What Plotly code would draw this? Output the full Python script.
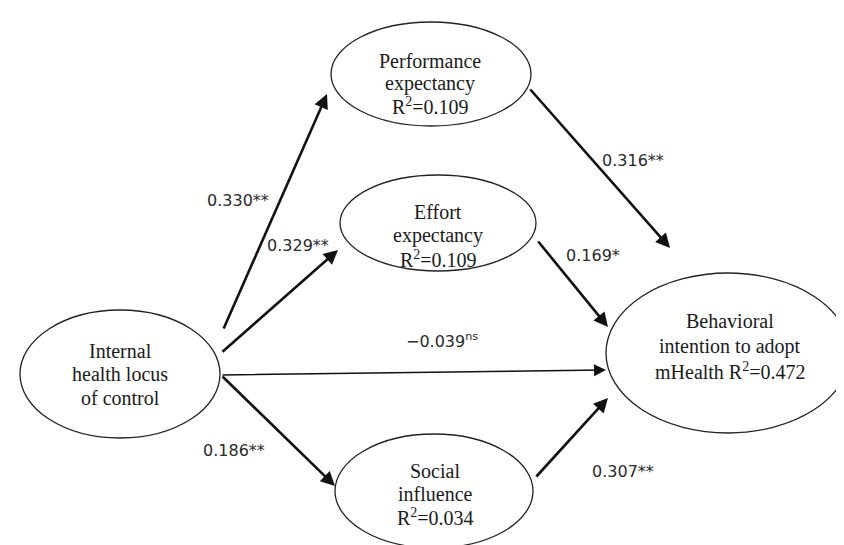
import plotly.graph_objects as go

# ---------------- data ----------------
node_names = ["Internal<br>health locus<br>of control",
              "Performance<br>expectancy<br>R<sup>2</sup>=0.109",
              "Effort<br>expectancy<br>R<sup>2</sup>=0.109",
              "Social<br>influence<br>R<sup>2</sup>=0.034",
              "Behavioral<br>intention to adopt<br>mHealth R<sup>2</sup>=0.472"]
edge_from = [0, 0, 0, 0, 1, 2, 3]
edge_to = [1, 2, 4, 3, 4, 4, 4]
edge_coef = ["0.330**", "0.329**", "\u22120.039<sup>ns</sup>", "0.186**",
             "0.316**", "0.169*", "0.307**"]

# ---------------- layout geometry (pixels, y down) ----------------
ellipses = [  # cx, cy, rx, ry
    (112, 366, 100, 64),
    (423, 66, 100, 52),
    (430, 215, 98, 48),
    (426, 483, 99, 57),
    (720, 345, 122, 80),
]
text_centers = [(112, 366), (422, 75), (430, 227), (427, 486), (722, 338)]
line_pitch = [23.5, 22.5, 23.5, 23, 25]
edge_tail = [(215, 322), (213, 345), (213, 367), (213, 367), (521, 80), (529, 232), (527, 470)]
edge_head = [(319, 86), (330, 242), (598, 362), (327, 478), (662, 240), (600, 319), (600, 390)]
edge_width = [2.6, 2.6, 1.5, 2.6, 2.6, 2.6, 2.6]
label_pos = [(230, 192), (290, 237), (434, 332), (226, 442), (625, 152), (585, 247), (615, 463)]

W, H = 844, 545
fig = go.Figure()
fig.add_trace(go.Scatter(x=[0, W], y=[0, H], mode="markers",
                         marker=dict(opacity=0), hoverinfo="skip", showlegend=False))

for (cx, cy, rx, ry) in ellipses:
    fig.add_shape(type="circle", xref="x", yref="y",
                  x0=cx - rx, x1=cx + rx, y0=cy - ry, y1=cy + ry,
                  line=dict(color="#222222", width=1.3), fillcolor="rgba(0,0,0,0)")

for name, (tx, ty), p in zip(node_names, text_centers, line_pitch):
    lines = name.split("<br>")
    n = len(lines)
    for i, ln in enumerate(lines):
        fig.add_annotation(x=tx, y=ty + (i - (n - 1) / 2) * p, text=ln, showarrow=False,
                           xref="x", yref="y",
                           font=dict(family="Liberation Serif", size=20, color="#1a1a1a"))

for k in range(len(edge_from)):
    (hx, hy), (tx, ty) = edge_head[k], edge_tail[k]
    fig.add_annotation(x=hx, y=hy, ax=tx, ay=ty, xref="x", yref="y", axref="x", ayref="y",
                       text="", showarrow=True, arrowhead=2, arrowsize=1.1 if edge_width[k] > 2 else 1.6,
                       arrowwidth=edge_width[k], arrowcolor="#111111", standoff=0, startstandoff=0)

for lab, (lx, ly) in zip(edge_coef, label_pos):
    fig.add_annotation(x=lx, y=ly, text=lab, showarrow=False, xref="x", yref="y",
                       font=dict(family="DejaVu Sans", size=16, color="#2a2a2a"))

fig.update_xaxes(range=[0, W], visible=False, fixedrange=True)
fig.update_yaxes(range=[H, 0], visible=False, fixedrange=True)
fig.update_layout(width=W, height=H, margin=dict(l=0, r=0, t=0, b=0),
                  plot_bgcolor="white", paper_bgcolor="white", showlegend=False)
fig.write_html("out.html")
